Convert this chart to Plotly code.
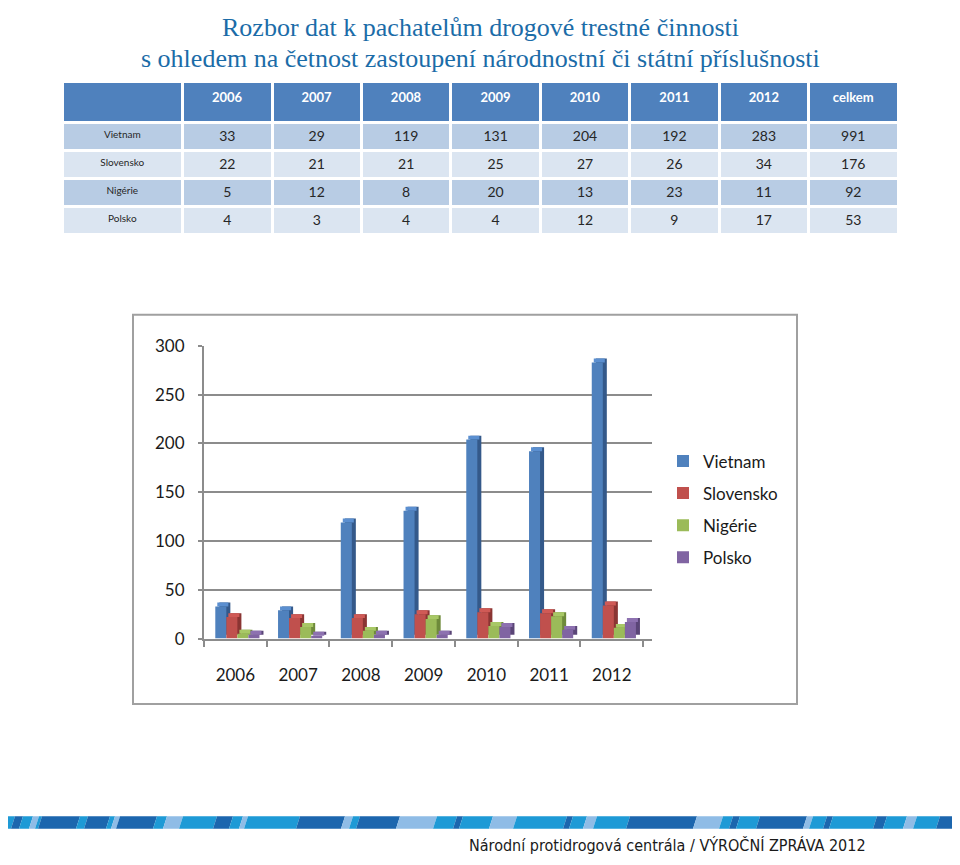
import plotly.graph_objects as go

# ---------------- data ----------------
years = ["2006", "2007", "2008", "2009", "2010", "2011", "2012"]
countries = ["Vietnam", "Slovensko", "Nigérie", "Polsko"]
vietnam = [33, 29, 119, 131, 204, 192, 283]
slovensko = [22, 21, 21, 25, 27, 26, 34]
nigerie = [5, 12, 8, 20, 13, 23, 11]
polsko = [4, 3, 4, 4, 12, 9, 17]
totals = [991, 176, 92, 53]
header_labels = [""] + years + ["celkem"]
y_ticks = [0, 50, 100, 150, 200, 250, 300]

series = [vietnam, slovensko, nigerie, polsko]
front_colors = ["#4f81bd", "#c0504d", "#9bbb59", "#8064a2"]
side_colors = ["#34598a", "#8a3533", "#6e8a3a", "#5a4577"]
cap_colors = ["#5b8fd0", "#d05a56", "#a8c866", "#8d71b0"]

W, H = 960, 865
OFF = 8  # page offset of the figure


def px(x):
    return (x - OFF) / W


def py(y):
    return 1 - (y - OFF) / H


fig = go.Figure()

# ---------------- table ----------------
cols = [countries]
for i in range(len(years)):
    cols.append([s[i] for s in series])
cols.append(totals)
row_fill = ["#b8cce4", "#dbe5f1", "#b8cce4", "#dbe5f1"]

fig.add_trace(go.Table(
    domain=dict(x=[px(62), px(898)], y=[py(232), py(72)]),
    columnwidth=[120] + [89] * 8,
    header=dict(
        values=["<b>%s</b>" % h for h in header_labels],
        fill_color="#4f81bd",
        line=dict(color="white", width=3),
        font=dict(family="Lato, Open Sans, sans-serif", size=13, color="white"),
        align="center",
        height=41,
    ),
    cells=dict(
        values=cols,
        fill_color=[row_fill] * len(cols),
        line=dict(color="white", width=3),
        font=dict(family="Lato, Open Sans, sans-serif",
                  size=[10] + [14] * 8, color="#262626"),
        align="center",
        height=28,
    ),
))

# ---------------- bars (pseudo 3D) ----------------
bw = 0.176
depth_x = 0.064
depth_y = 4
xs = list(range(len(years)))
for k, (name, vals) in enumerate(zip(countries, series)):
    off = -0.32 + k * bw
    # side face
    fig.add_trace(go.Bar(
        x=xs, y=vals, base=depth_y, offset=off + depth_x, width=bw,
        marker=dict(color=side_colors[k], line=dict(width=0)),
        showlegend=False, hoverinfo="skip",
    ))
    # top cap
    fig.add_trace(go.Bar(
        x=xs, y=[depth_y] * len(vals), base=vals, offset=off + depth_x / 2, width=bw,
        marker=dict(color=cap_colors[k], line=dict(width=0)),
        showlegend=False, hoverinfo="skip",
    ))
    # front face
    fig.add_trace(go.Bar(
        x=xs, y=vals, offset=off, width=bw, name=name, legendgroup=name,
        marker=dict(color=front_colors[k], line=dict(width=0)),
    ))

axis_font = dict(family="Lato, Open Sans, sans-serif", size=17, color="#1a1a1a")

fig.update_layout(
    width=W, height=H,
    margin=dict(l=0, r=0, t=0, b=0),
    paper_bgcolor="white", plot_bgcolor="white",
    barmode="overlay",
    xaxis=dict(
        domain=[px(204), px(652)],
        range=[-0.5, 6.64],
        tickmode="array", tickvals=xs, ticktext=years,
        tickfont=axis_font, ticks="", ticklabelstandoff=20,
        showline=True, linecolor="#8c8c8c", linewidth=2,
        showgrid=False, zeroline=False,
        minor=dict(tick0=-0.5, dtick=1, ticks="outside", ticklen=6,
                   tickcolor="#8c8c8c", tickwidth=2, showgrid=False),
        fixedrange=True,
    ),
    yaxis=dict(
        domain=[py(643), py(343)],
        range=[0, 300],
        tickmode="array", tickvals=y_ticks,
        tickfont=axis_font, ticks="outside", ticklen=4,
        tickcolor="#8c8c8c", tickwidth=2, ticklabelstandoff=10,
        showline=True, linecolor="#8c8c8c", linewidth=2,
        showgrid=True, gridcolor="#8c8c8c", gridwidth=2,
        zeroline=False, fixedrange=True,
    ),
    legend=dict(
        x=px(663), y=py(443), xanchor="left", yanchor="top",
        font=dict(family="Lato, Open Sans, sans-serif", size=17, color="#1a1a1a"),
        tracegroupgap=7, bgcolor="rgba(0,0,0,0)",
    ),
)

# ---------------- title ----------------
title_font = dict(family="Liberation Serif, DejaVu Serif, serif", size=26, color="#1b6ca8")
fig.add_annotation(text="Rozbor dat k pachatelům drogové trestné činnosti",
                   x=px(480), y=py(17), xref="paper", yref="paper", borderpad=0,
                   showarrow=False, font=title_font, yanchor="middle")
fig.add_annotation(text="s ohledem na četnost zastoupení národnostní či státní příslušnosti",
                   x=px(480), y=py(48), xref="paper", yref="paper", borderpad=0,
                   showarrow=False, font=title_font, yanchor="middle")

# ---------------- chart frame ----------------
fig.add_shape(type="rect", xref="paper", yref="paper",
              x0=px(133), x1=px(797), y0=py(710), y1=py(311),
              line=dict(color="#a0a0a0", width=2), fillcolor="rgba(0,0,0,0)",
              layer="below")

# ---------------- footer stripe ----------------
D, M, L = "#1c66ae", "#1e9ad6", "#8fbce6"
stripes = [
    (0, 15, M), (15, 23, D), (23, 33, M), (33, 39, L), (39, 42, M), (42, 80, D),
    (80, 88, M), (88, 110, D), (110, 115, M), (115, 120, L), (120, 157, D),
    (157, 167, M), (167, 183, L), (183, 217, M), (217, 233, D), (233, 243, M),
    (243, 248, L), (248, 300, M), (300, 345, D), (345, 353, L), (353, 360, M),
    (360, 400, D), (400, 437, L), (437, 457, M), (457, 463, D), (463, 493, M),
    (493, 517, L), (517, 567, M), (567, 573, D), (573, 587, M), (587, 597, L),
    (597, 630, M), (630, 697, D), (697, 723, L), (723, 733, M), (733, 740, D),
    (740, 760, M), (760, 807, D), (807, 813, L), (813, 827, M), (827, 833, D),
    (833, 877, M), (877, 887, D), (887, 907, M), (907, 917, L), (917, 940, M),
    (940, 975, D),
]
top, bot, slant = 825, 838, 4
for x0, x1, c in stripes:
    path = "M %f,%f L %f,%f L %f,%f L %f,%f Z" % (
        px(x0 - 4), py(bot), px(x0 - 4 + slant), py(top),
        px(x1 - 4 + slant), py(top), px(x1 - 4), py(bot))
    fig.add_shape(type="path", xref="paper", yref="paper", path=path,
                  fillcolor=c, line=dict(width=0))

fig.add_annotation(text="Národní protidrogová centrála / VÝROČNÍ ZPRÁVA 2012",
                   x=px(868), y=py(855), xref="paper", yref="paper",
                   xanchor="right", yanchor="middle", showarrow=False,
                   font=dict(family="Liberation Sans Narrow, DejaVu Sans Condensed, sans-serif",
                             size=16, color="#1a1a1a"))

fig.write_html("out.html")
